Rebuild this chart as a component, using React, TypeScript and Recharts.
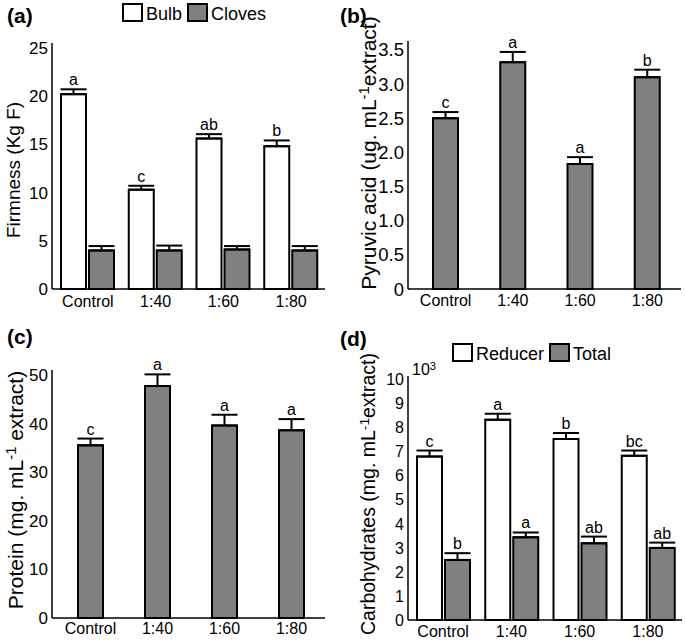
import React from 'react'
import { BarChart, Bar, XAxis, YAxis, ErrorBar, LabelList } from 'recharts'

const categories = ['Control', '1:40', '1:60', '1:80']

// (a) firmness
const bulb = [20.2, 10.3, 15.6, 14.8]
const bulbErr = [0.5, 0.4, 0.45, 0.6]
const bulbLetters = ['a', 'c', 'ab', 'b']
const cloves = [4.0, 4.0, 4.1, 4.0]
const clovesErr = [0.45, 0.5, 0.35, 0.45]

// (b) pyruvic acid
const pyruvic = [2.5, 3.32, 1.83, 3.1]
const pyruvicErr = [0.09, 0.15, 0.1, 0.11]
const pyruvicLetters = ['c', 'a', 'a', 'b']

// (c) protein
const protein = [35.5, 47.7, 39.6, 38.6]
const proteinErr = [1.4, 2.4, 2.2, 2.3]
const proteinLetters = ['c', 'a', 'a', 'a']

// (d) carbohydrates (x10^3)
const reducer = [6.8, 8.33, 7.53, 6.83]
const reducerErr = [0.25, 0.25, 0.25, 0.22]
const reducerLetters = ['c', 'a', 'b', 'bc']
const total = [2.5, 3.44, 3.19, 3.0]
const totalErr = [0.28, 0.2, 0.28, 0.22]
const totalLetters = ['b', 'a', 'ab', 'ab']

const ticksA = [0, 5, 10, 15, 20, 25]
const ticksB = [0, 0.5, 1, 1.5, 2, 2.5, 3, 3.5]
const ticksC = [0, 10, 20, 30, 40, 50]
const ticksD = [0, 1, 2, 3, 4, 5, 6, 7, 8, 9, 10]

const FONT = '"Liberation Sans", Arial, sans-serif'
const GREY = '#808080'

type Series = { values: number[]; errs: number[]; letters?: string[]; fill: string }

const letterLabel = (values: number[], errs: number[]) => (props: any) => {
  const vb = props.viewBox ?? props
  const x = Number(vb.x)
  const y = Number(vb.y)
  const w = Number(vb.width)
  const h = Number(vb.height)
  const i = props.index
  const ppu = h / values[i]
  const top = y - errs[i] * ppu
  return (
    <text x={x + w / 2} y={top - 4} textAnchor="middle" fontSize={16} fontFamily={FONT} fill="#000">
      {props.value}
    </text>
  )
}

function Panel(props: {
  left: number
  top: number
  width: number
  height: number
  margin: { top: number; right: number; left: number; bottom: number }
  yWidth: number
  xHeight: number
  xMargin: number
  padLeft: number
  domain: [number, number]
  ticks: number[]
  yFont: number
  fmt?: (v: number) => string
  series: Series[]
}) {
  const data = categories.map((c, i) => {
    const row: any = { name: c }
    props.series.forEach((s, k) => {
      row['v' + k] = s.values[i]
      row['e' + k] = [0, s.errs[i]]
      row['l' + k] = s.letters ? s.letters[i] : ''
    })
    return row
  })
  return (
    <div style={{ position: 'absolute', left: props.left, top: props.top }}>
      <BarChart width={props.width} height={props.height} data={data} margin={props.margin} barSize={25} barGap={3}>
        <XAxis
          dataKey="name"
          interval={0}
          tickLine={false}
          tickSize={0}
          tickMargin={props.xMargin}
          height={props.xHeight}
          padding={{ left: props.padLeft, right: 0 }}
          axisLine={{ stroke: '#000', strokeWidth: 1.5 }}
          tick={{ fill: '#000', fontSize: 16, fontFamily: FONT }}
        />
        <YAxis
          type="number"
          domain={props.domain}
          ticks={props.ticks}
          interval={0}
          width={props.yWidth}
          tickLine={false}
          tickSize={0}
          tickMargin={4}
          tickFormatter={props.fmt}
          axisLine={{ stroke: '#000', strokeWidth: 1.5 }}
          tick={{ fill: '#000', fontSize: props.yFont, fontFamily: FONT }}
        />
        {props.series.map((s, k) => (
          <Bar key={k} dataKey={'v' + k} fill={s.fill} stroke="#000" strokeWidth={2} isAnimationActive={false}>
            <ErrorBar dataKey={'e' + k} direction="y" width={13} stroke="#000" strokeWidth={2} />
            {s.letters && <LabelList dataKey={'l' + k} content={letterLabel(s.values, s.errs)} />}
          </Bar>
        ))}
      </BarChart>
    </div>
  )
}

const abs = (left: number, top: number, extra: React.CSSProperties = {}): React.CSSProperties => ({
  position: 'absolute',
  left,
  top,
  fontFamily: FONT,
  color: '#000',
  whiteSpace: 'nowrap',
  lineHeight: 1,
  ...extra
})

const rot = (cx: number, cy: number, size: number): React.CSSProperties =>
  abs(cx, cy, { fontSize: size, transform: 'translate(-50%, -50%) rotate(-90deg)' })

const sup: React.CSSProperties = { fontSize: '0.7em', verticalAlign: '0.45em' }

function Box({ fill }: { fill: string }) {
  return <span style={{ display: 'inline-block', width: 17, height: 15, background: fill, border: '2px solid #000', marginRight: 3, verticalAlign: '-2px' }} />
}

export default function App() {
  const oneDec = (v: number) => (v === 0 ? '0' : v.toFixed(1))
  return (
    <div style={{ position: 'absolute', left: 0, top: 0, width: 685, height: 641, background: '#fff', overflow: 'hidden' }}>
      <Panel
        left={0}
        top={0}
        width={340}
        height={320}
        margin={{ top: 43, right: 15, left: 0, bottom: 0 }}
        yWidth={52}
        xHeight={31}
        xMargin={7}
        padLeft={2}
        domain={[0, 25.5]}
        ticks={ticksA}
        yFont={17}
        series={[
          { values: bulb, errs: bulbErr, letters: bulbLetters, fill: '#fff' },
          { values: cloves, errs: clovesErr, fill: GREY }
        ]}
      />
      <Panel
        left={340}
        top={0}
        width={345}
        height={320}
        margin={{ top: 41, right: 4, left: 0, bottom: 0 }}
        yWidth={68}
        xHeight={31}
        xMargin={6}
        padLeft={4}
        domain={[0, 3.63]}
        ticks={ticksB}
        yFont={18.5}
        fmt={oneDec}
        series={[{ values: pyruvic, errs: pyruvicErr, letters: pyruvicLetters, fill: GREY }]}
      />
      <Panel
        left={0}
        top={320}
        width={340}
        height={321}
        margin={{ top: 50, right: 15, left: 0, bottom: 0 }}
        yWidth={52}
        xHeight={23}
        xMargin={5}
        padLeft={5}
        domain={[0, 51]}
        ticks={ticksC}
        yFont={17}
        series={[{ values: protein, errs: proteinErr, letters: proteinLetters, fill: GREY }]}
      />
      <Panel
        left={340}
        top={320}
        width={345}
        height={321}
        margin={{ top: 56, right: 3, left: 0, bottom: 0 }}
        yWidth={68}
        xHeight={21}
        xMargin={6}
        padLeft={1}
        domain={[0, 10.15]}
        ticks={ticksD}
        yFont={16}
        series={[
          { values: reducer, errs: reducerErr, letters: reducerLetters, fill: '#fff' },
          { values: total, errs: totalErr, letters: totalLetters, fill: GREY }
        ]}
      />

      <div style={abs(7, 5, { fontSize: 21, fontWeight: 'bold' })}>(a)</div>
      <div style={abs(340, 5, { fontSize: 21, fontWeight: 'bold' })}>(b)</div>
      <div style={abs(7, 326, { fontSize: 21, fontWeight: 'bold' })}>(c)</div>
      <div style={abs(340, 328, { fontSize: 21, fontWeight: 'bold' })}>(d)</div>

      <div style={abs(122, 3, { fontSize: 18 })}>
        <Box fill="#fff" />Bulb <Box fill={GREY} />Cloves
      </div>
      <div style={abs(452, 343, { fontSize: 18 })}>
        <Box fill="#fff" />Reducer <Box fill={GREY} />Total
      </div>

      <div style={abs(412, 361, { fontSize: 16 })}>
        10<span style={sup}>3</span>
      </div>

      <div style={rot(13, 170, 19)}>Firmness (Kg F)</div>
      <div style={rot(368, 153, 21)}>
        Pyruvic acid (ug. mL<span style={sup}>-1</span>extract)
      </div>
      <div style={rot(15, 490, 21)}>
        Protein (mg. mL<span style={sup}>-1</span> extract)
      </div>
      <div style={rot(368, 494, 19.5)}>
        Carbohydrates (mg. mL<span style={sup}>-1</span>extract)
      </div>
    </div>
  )
}
